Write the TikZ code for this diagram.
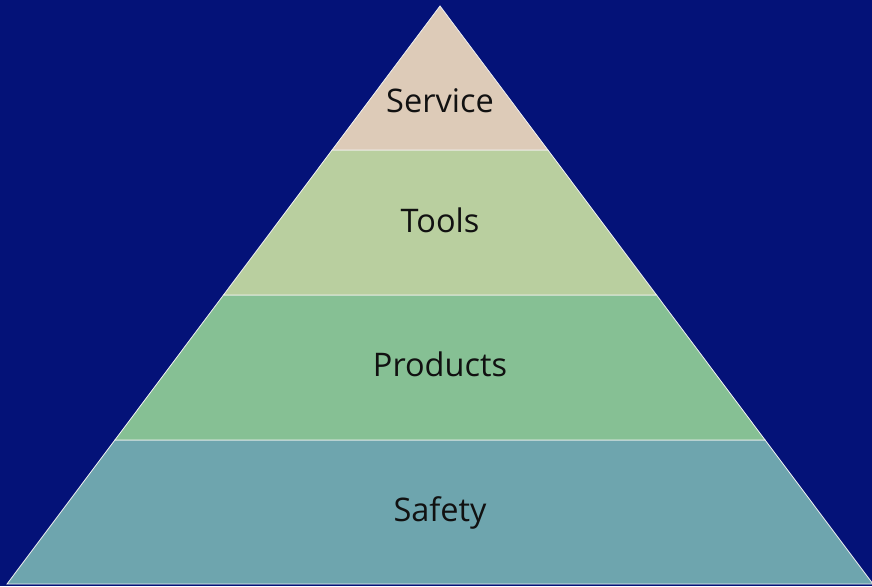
\documentclass[tikz,border=0pt]{standalone}
\usepackage{fontspec}
\setmainfont{Open Sans}
\definecolor{bgblue}{RGB}{4,18,120}
\definecolor{cservice}{RGB}{221,203,184}
\definecolor{ctools}{RGB}{185,207,159}
\definecolor{cproducts}{RGB}{134,192,148}
\definecolor{csafety}{RGB}{110,165,174}
\definecolor{txt}{RGB}{17,17,17}
\begin{document}
\begin{tikzpicture}[x=1pt,y=-1pt,
  layer/.style={draw=white!90!gray,line width=0.8pt,line join=miter},
  lbl/.style={font=\fontsize{32.5}{38}\selectfont,text=txt,inner sep=0pt,anchor=base}]
\fill[bgblue] (0,0) rectangle (872,586);
\useasboundingbox (0,0) rectangle (872,586);
% layers
\path[layer,fill=csafety] (7,584) -- (873,584) -- (765.1,440) -- (114.9,440) -- cycle;
\path[layer,fill=cproducts] (114.9,440) -- (765.1,440) -- (656.5,295) -- (223.5,295) -- cycle;
\path[layer,fill=ctools] (223.5,295) -- (656.5,295) -- (547.9,150) -- (332.1,150) -- cycle;
\path[layer,fill=cservice] (332.1,150) -- (547.9,150) -- (440,6) -- cycle;
% labels
\node[lbl] (service) at (440,112) {Service};
\node[lbl] (tools) at (440,232) {Tools};
\node[lbl] (products) at (440,376) {Products};
\node[lbl] (safety) at (440,521) {Safety};
\end{tikzpicture}
\end{document}
